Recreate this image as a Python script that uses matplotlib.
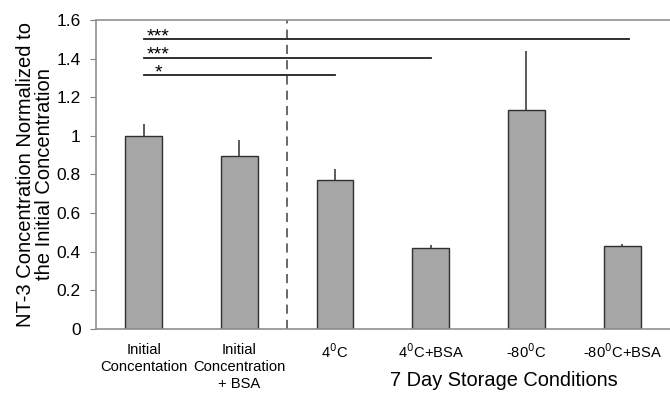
import matplotlib.pyplot as plt

plt.rcParams['font.family'] = ['Liberation Sans', 'DejaVu Sans']

# data
labels = ['Initial\nConcentation', 'Initial\nConcentration\n+ BSA', '4$^0$C',
          '4$^0$C+BSA', '-80$^0$C', '-80$^0$C+BSA']
values = [1.0, 0.897, 0.77, 0.418, 1.132, 0.428]
errors = [0.06, 0.08, 0.056, 0.016, 0.307, 0.012]
# significance bars: end bar index, stars, height
sig_ends = [5, 3, 2]
sig_stars = ['***', '***', '*']
sig_y = [1.5, 1.405, 1.315]

fig = plt.figure(figsize=(6.7, 4), dpi=100)
ax = fig.add_axes([0.143, 0.178, 0.857, 0.772])

x = list(range(len(values)))
ax.bar(x, values, width=0.385, color='#a6a6a6', edgecolor='#303030', linewidth=1.0,
       yerr=[[0] * len(errors), errors], error_kw=dict(ecolor='#404040', elinewidth=1.2, capsize=0))

# vertical dashed divider
ax.axvline(1.5, color='#404040', linestyle=(0, (6, 4)), linewidth=1.1)

# significance lines
for end, stars, y in zip(sig_ends, sig_stars, sig_y):
    xe = end + 0.07 if end == 5 else end
    ax.plot([0, xe], [y, y], color='#202020', linewidth=1.3)
    ax.text(0.15, y - 0.012, stars, fontsize=14, ha='center', va='baseline')

ax.set_xlim(-0.5, 5.5)
ax.set_ylim(0, 1.6)
ax.set_yticks([0, 0.2, 0.4, 0.6, 0.8, 1.0, 1.2, 1.4, 1.6])
ax.set_yticklabels(['0', '0.2', '0.4', '0.6', '0.8', '1', '1.2', '1.4', '1.6'], fontsize=12.5)
ax.set_xticks(x)
ax.set_xticklabels(labels, fontsize=10.6, va='top', linespacing=1.3)
ax.tick_params(axis='x', length=0, pad=10)
ax.tick_params(axis='y', length=4, color='#808080', pad=7)

for s in ['left', 'bottom', 'top']:
    ax.spines[s].set_color('#909090')
    ax.spines[s].set_linewidth(1.2)
ax.spines['right'].set_visible(False)

ax.set_ylabel('NT-3 Concentration Normalized to\nthe Initial Concentration', fontsize=14.5,
              labelpad=2, linespacing=0.95)

fig.text(504 / 670, 1 - 381 / 400, '7 Day Storage Conditions', fontsize=14.4, ha='center', va='center')

fig.savefig('out.png', dpi=100)
